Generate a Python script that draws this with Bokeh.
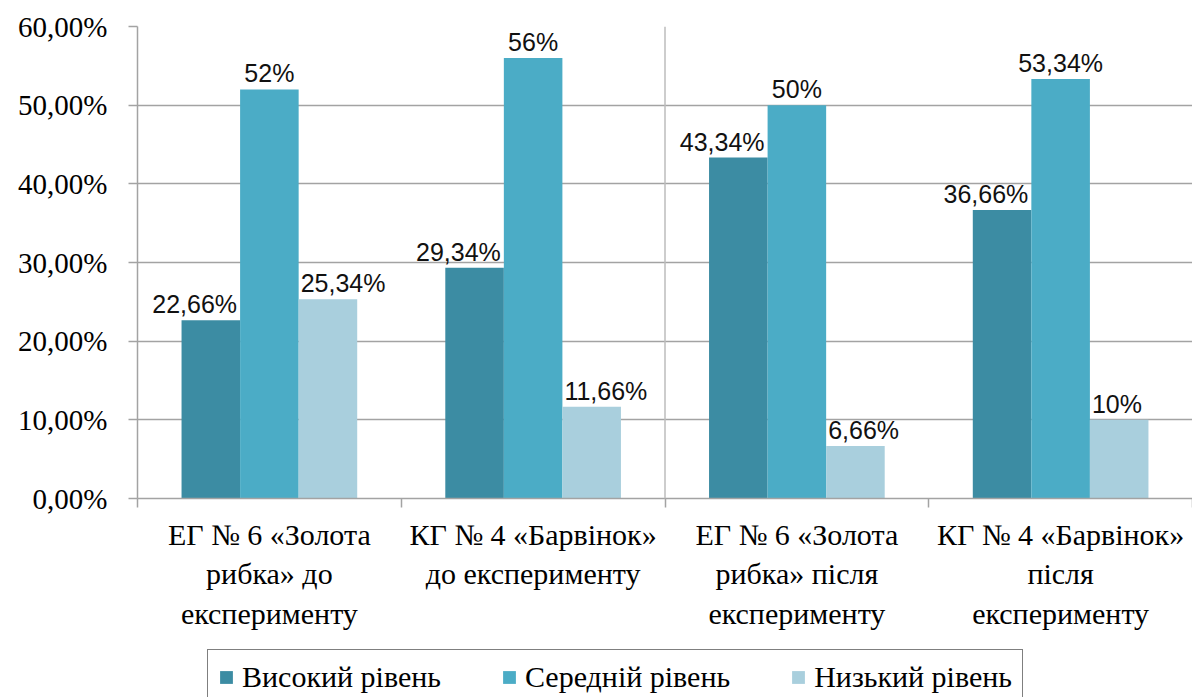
import numpy as np
from bokeh.plotting import figure
from bokeh.layouts import column
from bokeh.core.properties import value
from bokeh.models import (Range1d, FixedTicker, ColumnDataSource, LabelSet,
                          Legend, LegendItem, Span)
from bokeh.embed import file_html
from bokeh.resources import INLINE

# ---- data ----
categories = [
    "ЕГ № 6 «Золота\nрибка» до\nексперименту",
    "КГ № 4 «Барвінок»\nдо експерименту",
    "ЕГ № 6 «Золота\nрибка» після\nексперименту",
    "КГ № 4 «Барвінок»\nпісля\nексперименту",
]
series = ["Високий рівень", "Середній рівень", "Низький рівень"]
high = [22.66, 29.34, 43.34, 36.66]
mid = [52.0, 56.0, 50.0, 53.34]
low = [25.34, 11.66, 6.66, 10.0]
y_ticks = [0, 10, 20, 30, 40, 50, 60]
y_tick_labels = ["0,00%", "10,00%", "20,00%", "30,00%", "40,00%", "50,00%", "60,00%"]

colors = ["#3C8CA3", "#4BACC6", "#A9CFDD"]
GRID = "#A3A3A3"
SERIF = "'Liberation Serif', 'Times New Roman', serif"
SANS = "'Liberation Sans', Arial, sans-serif"


def fmt(v):
    if float(v).is_integer():
        return f"{int(v)}%"
    return f"{v:.2f}".replace(".", ",") + "%"


centers = np.arange(len(categories))
bw = 0.222
offsets = [-bw, 0.0, bw]

p = figure(width=1192, height=648, output_backend="svg", toolbar_location=None,
           x_range=Range1d(-0.5, len(categories) - 0.5), y_range=Range1d(0, 60),
           min_border_left=137, min_border_right=0, min_border_top=26,
           min_border_bottom=150)
p.outline_line_color = None
p.background_fill_color = "white"
p.border_fill_color = "white"

# y axis
ya = p.yaxis[0]
ya.ticker = FixedTicker(ticks=y_ticks)
ya.major_label_overrides = {t: l for t, l in zip(y_ticks, y_tick_labels)}
ya.major_label_text_font = SERIF
ya.major_label_text_font_size = "29px"
ya.major_label_text_color = "black"
ya.major_label_standoff = 21
ya.axis_line_color = GRID
ya.axis_line_width = 1.5
ya.major_tick_line_color = GRID
ya.major_tick_line_width = 1.5
ya.major_tick_out = 9
ya.major_tick_in = 0
ya.minor_tick_line_color = None

# x axis
xa = p.xaxis[0]
xa.ticker = FixedTicker(ticks=list(centers),
                        minor_ticks=list(np.arange(len(categories) + 1) - 0.5))
xa.major_label_overrides = {int(c): cat for c, cat in zip(centers, categories)}
xa.major_label_text_font = SERIF
xa.major_label_text_font_size = "30px"
xa.major_label_text_color = "black"
xa.major_label_standoff = 10
xa.major_tick_line_color = None
xa.minor_tick_line_color = GRID
xa.minor_tick_line_width = 1.5
xa.minor_tick_out = 9
xa.minor_tick_in = 0
xa.axis_line_color = GRID
xa.axis_line_width = 1.5

p.xgrid.visible = False
p.ygrid.grid_line_color = GRID
p.ygrid.grid_line_width = 1.5

p.add_layout(Span(location=1.5, dimension="height", line_color="#BDBDBD",
                  line_width=1.5))

aligns = ["right", "center", "left"]
xoffs = [-3, 0, 2]
sources = []
for i, (name, vals) in enumerate(zip(series, [high, mid, low])):
    xs = centers + offsets[i]
    if aligns[i] == "right":
        lx = xs + bw / 2
    elif aligns[i] == "left":
        lx = xs - bw / 2
    else:
        lx = xs
    src = ColumnDataSource(dict(x=xs, top=vals, lx=lx,
                                lab=[fmt(v) for v in vals]))
    sources.append(src)
    p.vbar(x="x", top="top", width=bw, source=src, fill_color=colors[i],
           line_color=None)
    p.add_layout(LabelSet(x="lx", y="top", text="lab", source=src,
                          text_align=aligns[i], text_baseline="bottom",
                          x_offset=xoffs[i], y_offset=2,
                          text_font=value(SANS), text_font_size=value("25px"),
                          text_color="#111111"))

# ---- legend strip (separate figure so the legend is not clipped) ----
lg = figure(width=1192, height=49, output_backend="svg", toolbar_location=None,
            x_range=Range1d(100, 101), y_range=Range1d(100, 101),
            x_axis_type=None, y_axis_type=None,
            min_border_left=0, min_border_right=0, min_border_top=0,
            min_border_bottom=0)
lg.outline_line_color = None
lg.background_fill_color = "white"
lg.border_fill_color = "white"
lg_renderers = [lg.vbar(x="x", top="top", width=bw, source=s,
                        fill_color=c, line_color=None)
                for s, c in zip(sources, colors)]
legend = Legend(items=[LegendItem(label=s, renderers=[r])
                       for s, r in zip(series, lg_renderers)],
                orientation="horizontal", location=(70, -8),
                glyph_width=16, glyph_height=16, label_standoff=8,
                spacing=60, padding=10, margin=0,
                label_text_font=SERIF, label_text_font_size="30px",
                label_text_color="black",
                border_line_color="black", border_line_width=1.5,
                background_fill_color="white")
lg.add_layout(legend)

layout = column(p, lg, spacing=0)
open("out.html", "w").write(file_html(layout, INLINE))
